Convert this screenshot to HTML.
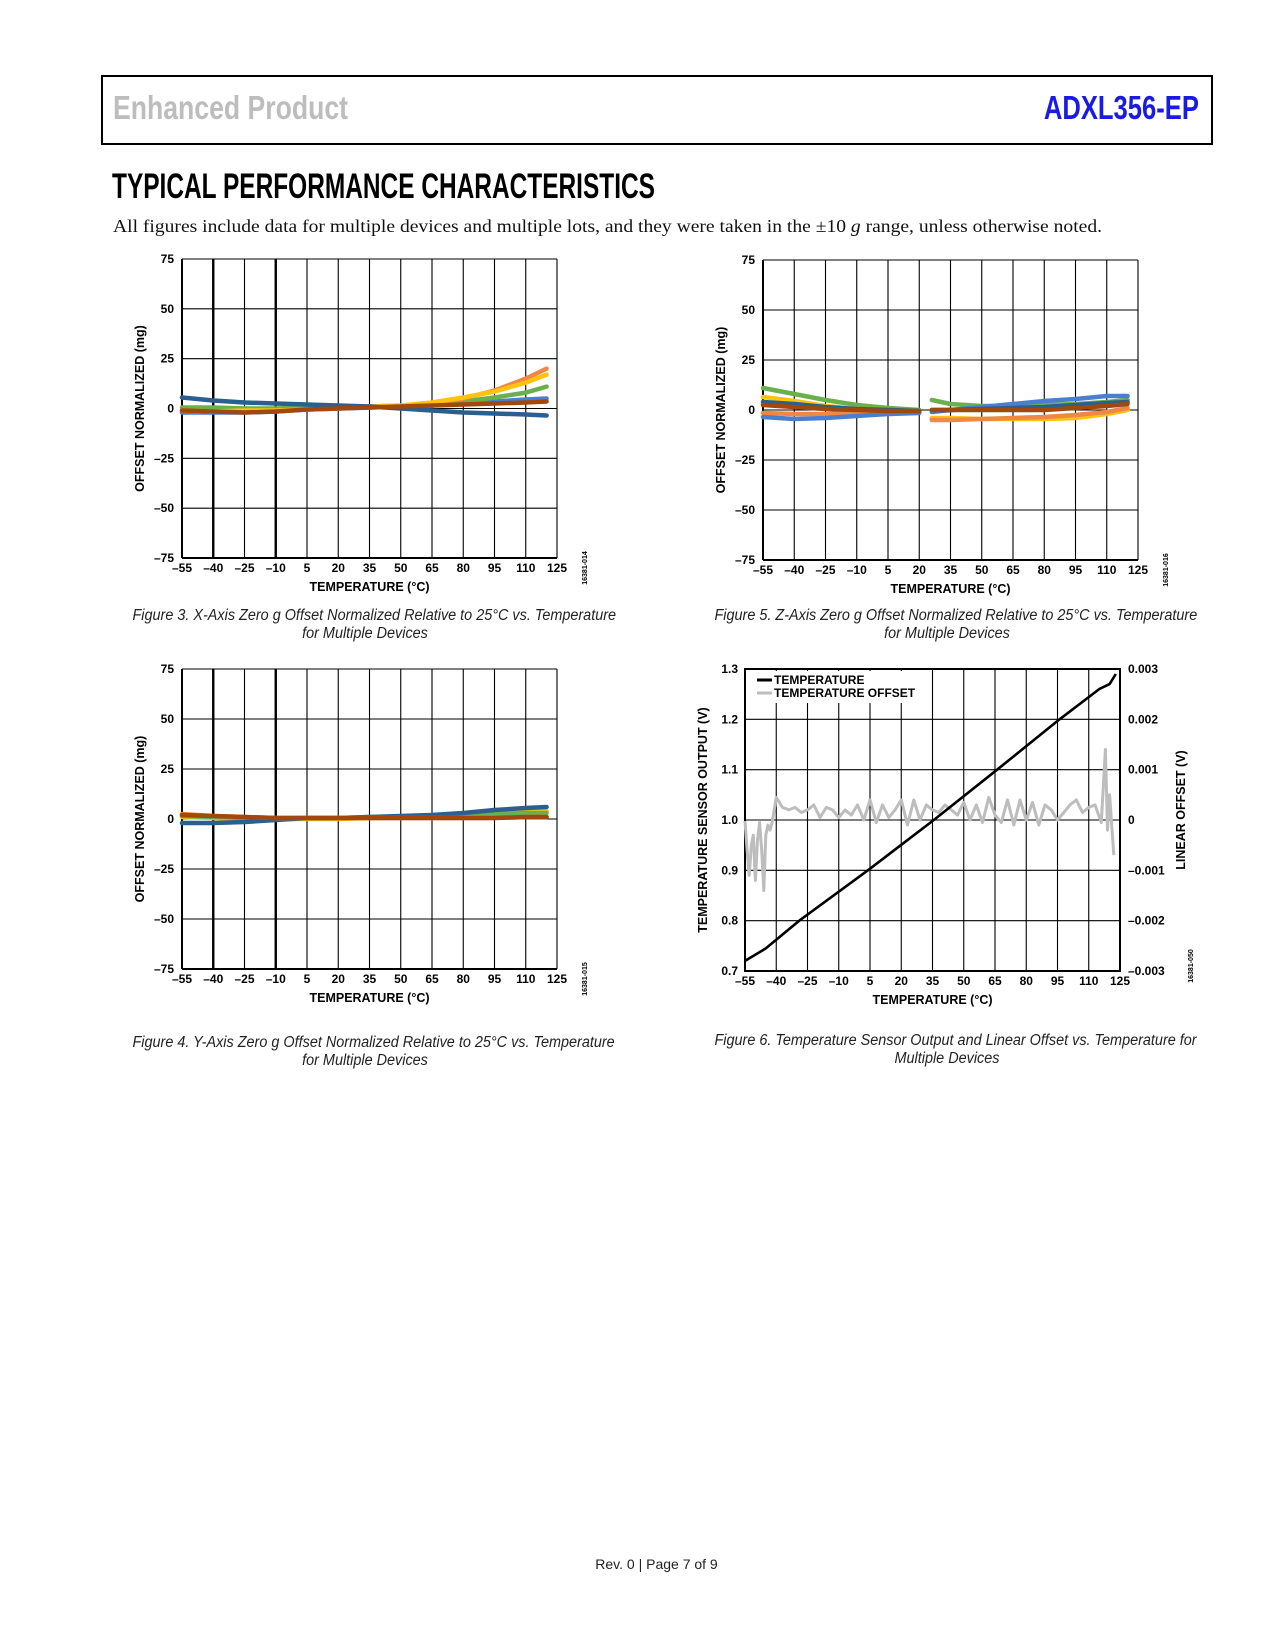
<!DOCTYPE html>
<html><head><meta charset="utf-8">
<style>
body{margin:0;background:#fff;}
#page{position:relative;width:1275px;height:1650px;overflow:hidden;background:#fff;font-family:"Liberation Sans",Arial,sans-serif;}
.abs{position:absolute;white-space:nowrap;}
.fit{display:inline-block;}
.cap{font-family:"Liberation Sans",sans-serif;font-style:italic;font-size:15.5px;color:#222;text-align:center;line-height:18px;transform:scaleX(0.93);transform-origin:center;}
svg text{font-family:"Liberation Sans",Arial,sans-serif;font-weight:bold;}
</style></head>
<body><div id="page">
<div class="abs" style="left:101px;top:75px;width:1108px;height:66px;border:2px solid #000;"></div>
<div class="abs fit" data-w="235" style="left:113px;top:89px;font-size:33px;font-weight:bold;color:#bdbdbd;transform-origin:left;">Enhanced Product</div>
<div class="abs fit" data-w="155" style="right:76px;top:89px;font-size:33px;font-weight:bold;color:#1a1ae6;transform-origin:right;">ADXL356-EP</div>
<div class="abs fit" data-w="543" style="left:112px;top:167px;font-size:35px;font-weight:bold;color:#000;transform-origin:left;">TYPICAL PERFORMANCE CHARACTERISTICS</div>
<div class="abs fit" data-w="989" style="left:113px;top:216px;font-family:'Liberation Serif',serif;font-size:17.5px;color:#111;transform-origin:left;">All figures include data for multiple devices and multiple lots, and they were taken in the ±10 <i>g</i> range, unless otherwise noted.</div>

<svg id="chart" width="1275" height="1650" style="position:absolute;left:0;top:0;"></svg>

<div class="abs cap" style="left:115px;width:500px;top:607px;">Figure 3. X-Axis Zero <i>g</i> Offset Normalized Relative to 25°C vs. Temperature<br>for Multiple Devices</div>
<div class="abs cap" style="left:697px;width:500px;top:607px;">Figure 5. Z-Axis Zero <i>g</i> Offset Normalized Relative to 25°C vs. Temperature<br>for Multiple Devices</div>
<div class="abs cap" style="left:115px;width:500px;top:1034px;">Figure 4. Y-Axis Zero <i>g</i> Offset Normalized Relative to 25°C vs. Temperature<br>for Multiple Devices</div>
<div class="abs cap" style="left:697px;width:500px;top:1032px;">Figure 6. Temperature Sensor Output and Linear Offset vs. Temperature for<br>Multiple Devices</div>
<div class="abs" style="left:0;width:1313px;text-align:center;top:1556px;font-size:14px;color:#222;">Rev. 0 | Page 7 of 9</div>
</div>
<script>
// ---- shared categories ----
const xTicks = [-55,-40,-25,-10,5,20,35,50,65,80,95,110,125];
const mgTicks = [-75,-50,-25,0,25,50,75];
const tempPts = [-55,-40,-25,-10,5,20,35,50,65,80,95,110,120];
// ---- Figure 3 (X-axis) ----
const f3Blue   = [5.5,4,3,2.5,2,1.5,1,0,-1,-2,-2.5,-3,-3.5];
const f3Orange = [-1,-1.5,-1.5,-1,-0.5,0,1,1.5,2.5,5,9,15,20];
const f3Yellow = [-1,-1.5,-1,-1,-0.5,0,1,1.5,3,5.5,8.5,13,17];
const f3Green  = [0.5,0.5,0,0,0.5,0.5,1,1,2,3.5,5.5,8,11];
const f3LBlue  = [-2,-2,-2,-1.5,-0.5,0,0.5,1,1.5,2.5,3.5,4.5,5];
const f3Brown  = [-1,-1.5,-2,-1.5,-0.5,0,0.5,1,1.5,2,2.5,3,3.5];
// ---- Figure 4 (Y-axis) ----
const f4Blue   = [-2,-2,-1.5,-0.5,0.5,0.5,1,1.5,2,3,4.5,5.5,6];
const f4Yellow = [1,0.5,0,0,0,0,0.5,1,1.5,2,3,3.5,4];
const f4Green  = [1.5,1,0.5,0.5,0.5,0.5,1,1,1.5,2,2.5,3,3];
const f4Orange = [2.5,1.5,1,0.5,0.5,0.5,0.5,0.5,0.5,0.5,0.5,1,1];
const f4Brown  = [2,1.5,1,0.5,0.5,0.5,0.5,0.5,0.5,0.5,0.5,1,1];
// ---- Figure 5 (Z-axis), two segments ----
const f5TempA = [-55,-40,-25,-10,5,20];
const f5TempB = [26,35,50,65,80,95,110,120];
const f5GreenA=[11,8,5,2.5,1,0],        f5GreenB=[5,3,2,2,2.5,3,4,5];
const f5YellowA=[6.5,4.5,2,0.5,-0.5,-1], f5YellowB=[-4,-4,-4.5,-4.5,-4.5,-4,-2,0];
const f5OrangeA=[-1.5,-2,-2,-1.5,-1,-1], f5OrangeB=[-5,-5,-4.5,-4,-3.5,-2.5,-1,1];
const f5LBlueA=[-3.5,-4.5,-4,-3,-2,-1.5],f5LBlueB=[-1,0,1.5,3,4.5,5.5,7,7];
const f5DBlueA=[4,3,1.5,0.5,0,-0.5],     f5DBlueB=[0,0,0.5,1,1.5,2.5,3.5,4];
const f5BrownA=[2.5,1.5,0.5,0,-0.5,-0.5],f5BrownB=[0,0,0,0,0,1,2,3];
// ---- Figure 6 ----
const vTicks = [0.7,0.8,0.9,1.0,1.1,1.2,1.3];
const vTickLabels = ["0.7","0.8","0.9","1.0","1.1","1.2","1.3"];
const offTickLabels = ["–0.003","–0.002","–0.001","0","0.001","0.002","0.003"];
const sensT = [-55,-45,-29,4,35.6,66,96,115,120,123];
const sensV = [0.72,0.745,0.80,0.90,1.0,1.1,1.2,1.26,1.27,1.29];
const offT = [-55,-54,-53,-52,-51,-50,-49,-48,-47,-46,-45,-44,-43,-42,-40,-37,-34,-31,-28,-25,-22,-19,-16,-13,-10,-7,-4,-1,2,5,8,11,14,17,20,23,26,29,32,35,38,41,44,47,50,53,56,59,62,65,68,71,74,77,80,83,86,89,92,95,98,101,104,107,110,113,116,118,119,120,122];
const offV = [-0.2,-6,-11,-5,-3,-12,-4,-0.5,-6,-14,-3,-1,-2,-0.5, 4.5,2.5,2,2.5,1.5,2,3,0.5,2.5,2,0.5,2,1,3,0,4,-0.5,3,0.5,2,4,-1,4,0,3,2,1.5,3,2,1,3.5,0,3,-0.5,4.5,1,-0.5,4,-1,4,0,3.5,-1,3,2,0,1.5,3,4,1.5,2.5,3,-0.5,14,-2,5,-7];

document.querySelectorAll('.fit').forEach(el=>{const w=el.getBoundingClientRect().width;el.style.transform='scaleX('+(parseFloat(el.dataset.w)/w)+')';});

const NS='http://www.w3.org/2000/svg';
const svg=document.getElementById('chart');
function mk(tag,attrs,parent){const e=document.createElementNS(NS,tag);for(const k in attrs)e.setAttribute(k,attrs[k]);(parent||svg).appendChild(e);return e;}
function txt(s,x,y,size,anchor,parent,rot){const t=mk('text',{x:x,y:y,'font-size':size,'text-anchor':anchor||'middle',fill:'#000'},parent);if(rot)t.setAttribute('transform','rotate(-90 '+x+' '+y+')');t.textContent=s;return t;}

function offsetChart(name,L,T,R,B,thick,series,figId){
  const g=mk('g',{});
  
  
  const sx=v=>L+(v+55)/180*(R-L);
  const sy=v=>B-(v+75)/150*(B-T);
  xTicks.forEach(v=>{const l=mk('line',{x1:sx(v),x2:sx(v),y1:T,y2:B,stroke:'#000','stroke-width':(thick&&(v===-40||v===-10))?2.4:1.1},g);
    });
  mgTicks.forEach(v=>{const l=mk('line',{x1:L,x2:R,y1:sy(v),y2:sy(v),stroke:'#000','stroke-width':1.1},g);
    
    const t=txt(String(v).replace('-','–'),L-8,sy(v)+4,12,'end',g);
    });
  mk('line',{x1:L,x2:R,y1:B,y2:B,stroke:'#000','stroke-width':2},g);
  mk('line',{x1:L,x2:L,y1:T,y2:B,stroke:'#000','stroke-width':2},g);
  xTicks.forEach(v=>{const t=txt(String(v).replace('-','–'),sx(v),B+14,12,'middle',g);
    });
  const xt=txt('TEMPERATURE (°C)',(L+R)/2,B+33,12.5,'middle',g);
  
  const yt=txt('OFFSET NORMALIZED (mg)',L-38,(T+B)/2,12.5,'middle',g,true);
  
  const fid=txt(figId,R+30,B+10,7,'middle',g,true);fid.setAttribute('font-weight','normal');
  
  series.forEach(s=>{
    const d=s.t.map((t,i)=>(i?'L':'M')+sx(t).toFixed(1)+' '+sy(s.v[i]).toFixed(1)).join(' ');
    const p=mk('path',{d:d,fill:'none',stroke:s.c,'stroke-width':4.5,'stroke-linejoin':'round','stroke-linecap':'round'},g);
    
  });
}
const C={db:'#2a5f8f',lb:'#4a7fd0',or:'#ee8844',ye:'#ffc20e',gr:'#6ab04c',br:'#a0480e'};
offsetChart('figure-3-chart',182,259,557,558,true,[
 {t:tempPts,v:f3LBlue,c:C.lb,n:'series-light-blue'},
 {t:tempPts,v:f3Green,c:C.gr,n:'series-green'},
 {t:tempPts,v:f3Orange,c:C.or,n:'series-orange'},
 {t:tempPts,v:f3Yellow,c:C.ye,n:'series-yellow'},
 {t:tempPts,v:f3Blue,c:C.db,n:'series-dark-blue'},
 {t:tempPts,v:f3Brown,c:C.br,n:'series-brown'}],'16381-014');
offsetChart('figure-4-chart',182,669,557,969,true,[
 {t:tempPts,v:f4Yellow,c:C.ye,n:'series-yellow'},
 {t:tempPts,v:f4Green,c:C.gr,n:'series-green'},
 {t:tempPts,v:f4Blue,c:C.db,n:'series-dark-blue'},
 {t:tempPts,v:f4Orange,c:C.or,n:'series-orange'},
 {t:tempPts,v:f4Brown,c:C.br,n:'series-brown'}],'16381-015');
offsetChart('figure-5-chart',763,260,1138,560,false,[
 {t:f5TempA,v:f5GreenA,c:C.gr,n:'series-green-a'},{t:f5TempB,v:f5GreenB,c:C.gr,n:'series-green-b'},
 {t:f5TempA,v:f5YellowA,c:C.ye,n:'series-yellow-a'},{t:f5TempB,v:f5YellowB,c:C.ye,n:'series-yellow-b'},
 {t:f5TempA,v:f5OrangeA,c:C.or,n:'series-orange-a'},{t:f5TempB,v:f5OrangeB,c:C.or,n:'series-orange-b'},
 {t:f5TempA,v:f5LBlueA,c:C.lb,n:'series-light-blue-a'},{t:f5TempB,v:f5LBlueB,c:C.lb,n:'series-light-blue-b'},
 {t:f5TempA,v:f5DBlueA,c:C.db,n:'series-dark-blue-a'},{t:f5TempB,v:f5DBlueB,c:C.db,n:'series-dark-blue-b'},
 {t:f5TempA,v:f5BrownA,c:C.br,n:'series-brown-a'},{t:f5TempB,v:f5BrownB,c:C.br,n:'series-brown-b'}],'16381-016');

// Figure 6
(function(){
  const L=745,T=669,R=1120,B=971;
  const g=mk('g',{});
  
  
  const sx=v=>L+(v+55)/180*(R-L);
  const sy=v=>B-(v-0.7)/0.6*(B-T);
  const so=v=>B-(v*1e-4+0.003)/0.006*(B-T);
  xTicks.forEach(v=>{const l=mk('line',{x1:sx(v),x2:sx(v),y1:T,y2:B,stroke:'#000','stroke-width':1.1},g);
    
    const t=txt(String(v).replace('-','–'),sx(v),B+14,12,'middle',g);
    });
  vTicks.forEach((v,i)=>{const l=mk('line',{x1:L,x2:R,y1:sy(v),y2:sy(v),stroke:'#000','stroke-width':1.1},g);
    
    const t=txt(vTickLabels[i],L-7,sy(v)+4,12,'end',g);
    
    const t2=txt(offTickLabels[i],R+8,sy(v)+4,12,'start',g);
    });
  mk('rect',{x:L,y:T,width:R-L,height:B-T,fill:'none',stroke:'#000','stroke-width':2},g);
  const od=offT.map((t,i)=>(i?'L':'M')+sx(t).toFixed(1)+' '+so(offV[i]).toFixed(1)).join(' ');
  const po=mk('path',{d:od,fill:'none',stroke:'#bdbdbd','stroke-width':3,'stroke-linejoin':'round'},g);
  
  const sd=sensT.map((t,i)=>(i?'L':'M')+sx(t).toFixed(1)+' '+sy(sensV[i]).toFixed(1)).join(' ');
  const ps=mk('path',{d:sd,fill:'none',stroke:'#000','stroke-width':2.6,'stroke-linejoin':'round'},g);
  
  const lg=mk('g',{},g);
  
  mk('rect',{x:L+2,y:T+2,width:176,height:32,fill:'#fff'},lg);
  mk('line',{x1:L+12,x2:L+27,y1:T+11,y2:T+11,stroke:'#000','stroke-width':3},lg);
  txt('TEMPERATURE',L+29,T+15,12,'start',lg);
  mk('line',{x1:L+12,x2:L+27,y1:T+24,y2:T+24,stroke:'#bdbdbd','stroke-width':3},lg);
  txt('TEMPERATURE OFFSET',L+29,T+28,12,'start',lg);
  const xt=txt('TEMPERATURE (°C)',(L+R)/2,B+33,12.5,'middle',g);
  
  const yt=txt('TEMPERATURE SENSOR OUTPUT (V)',L-38,(T+B)/2,12.5,'middle',g,true);
  
  const yr=txt('LINEAR OFFSET (V)',R+65,(T+B)/2-10,12.5,'middle',g,true);
  
  const fid=txt('16381-050',R+73,B-5,7,'middle',g,true);fid.setAttribute('font-weight','normal');
  
})();
</script>
</body></html>
